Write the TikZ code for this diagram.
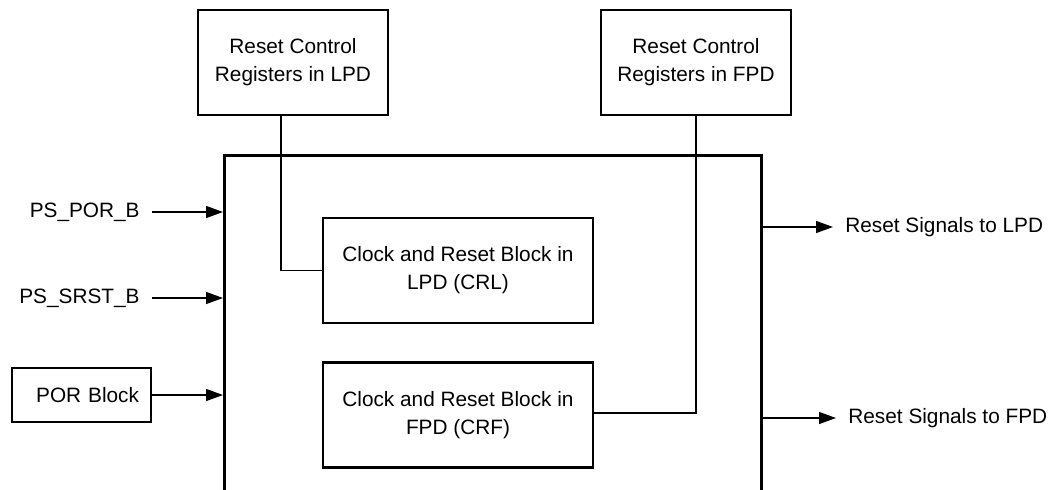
\documentclass[tikz,border=0pt]{standalone}
\usepackage{fontspec}
\setmainfont{Liberation Sans}
\usetikzlibrary{arrows.meta,positioning}

\begin{document}
\begin{tikzpicture}[x=0.5pt,y=-0.5pt,
  font=\fontsize{10.4}{14}\selectfont,
  blk/.style={draw, line width=1.4pt, minimum width=95pt, minimum height=52.5pt,
    align=center, inner sep=0pt},
  sig/.style={inner xsep=6pt, inner ysep=0pt},
  wire/.style={line width=0.65pt},
  arr/.style={wire, -{Triangle[length=8.5pt,width=6pt]}}]
  % Page frame (the PS block runs off the bottom)
  \clip (0,0) rectangle (1050,489);

  % Reset control registers
  \node[blk] (reglpd) at (293,62.5) {Reset Control\\Registers in LPD};
  \node[blk] (regfpd) at (696,62.5) {Reset Control\\Registers in FPD};

  % PS reset block
  \node[draw, line width=1.4pt, minimum width=268.5pt, minimum height=200pt,
    inner sep=0pt, anchor=north west] (ps) at (223,154) {};

  % CRL and CRF
  \node[blk, minimum width=135pt] (crl) at (458,270.5) {Clock and Reset Block in\\LPD (CRL)};
  \node[blk, minimum width=135pt] (crf) at (458,415) {Clock and Reset Block in\\FPD (CRF)};

  % Register paths
  \draw[wire] ([xshift=-6pt]reglpd.south) |- (crl.west);
  \draw[wire] (regfpd.south) |- ([yshift=1pt]crf.east);

  % Inputs
  \node[sig, anchor=east] (por) at (152,212) {PS\_POR\_B};
  \node[sig, anchor=east] (srst) at (152,298) {PS\_SRST\_B};
  \node[draw, line width=1.4pt, text width=57.5pt, align=right, inner xsep=6pt,
    minimum height=27pt] (porblk) at (81.5,395) {POR Block};
  \draw[arr] (por) -- (por -| ps.west);
  \draw[arr] (srst) -- (srst -| ps.west);
  \draw[arr] (porblk) -- (porblk -| ps.west);

  % Outputs
  \node[sig, anchor=west] (lpdout) at (833,227) {Reset Signals to LPD};
  \node[sig, anchor=west] (fpdout) at (836,418) {Reset Signals to FPD};
  \draw[arr] (lpdout -| ps.east) -- (lpdout);
  \draw[arr] (fpdout -| ps.east) -- (fpdout);
\end{tikzpicture}
\end{document}
